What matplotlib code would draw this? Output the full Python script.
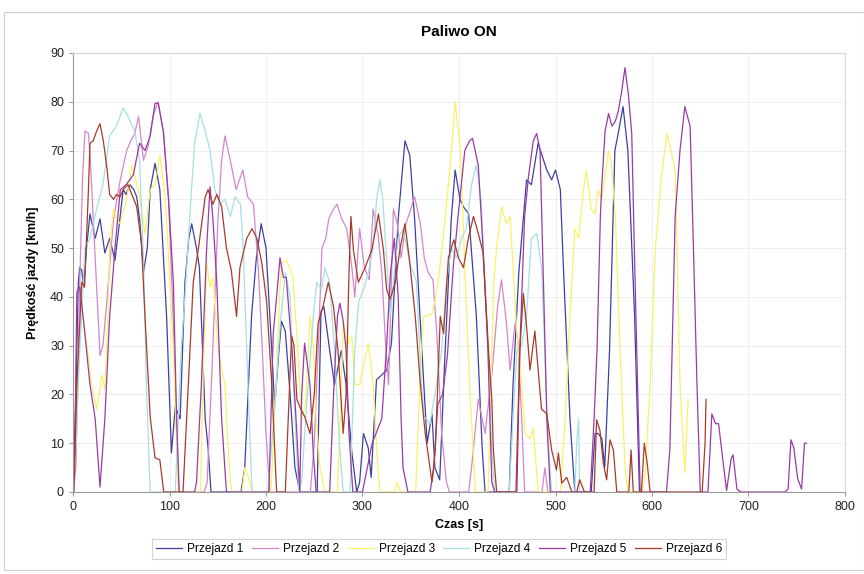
from matplotlib import pyplot as plt
from matplotlib.patches import Rectangle

plt.rcParams['font.family'] = ['Liberation Sans', 'DejaVu Sans']

# (czas [s], predkosc [km/h])
przejazd_1 = [(0, 0), (3, 20), (5.5, 43), (7, 46), (9, 45.5), (11, 42), (14, 50), (17.6, 57), (23, 52), (28, 56),
              (33, 49), (38, 52), (43.5, 47.5), (48, 55), (52, 62), (55, 61), (59, 63), (63, 62), (66, 60.5),
              (69, 56), (73, 45), (77, 50), (80, 62), (85, 67.4), (90, 62), (97, 36), (102, 8), (106, 17.5),
              (111, 15), (116, 43), (120, 52), (123, 55), (128, 50), (131, 46), (137, 15), (140, 9), (143, 0),
              (174, 0), (178, 5), (185, 36), (190, 48), (195, 55), (200, 50), (206, 29), (209, 17.5), (213, 28),
              (216, 35), (220, 33), (225, 20), (230, 5), (235, 0), (253, 0), (257, 37), (260, 38), (266, 29),
              (271, 22), (278, 29), (283, 22), (289, 8), (294, 0), (297, 2), (301, 12), (306, 9), (309, 3),
              (314.5, 23), (320, 24), (325, 25), (330, 30.5), (337, 56), (344, 72), (349, 69), (354, 56),
              (361, 31), (367, 10), (372, 16), (375, 5), (380, 2.5), (385, 26), (392, 56), (396, 66), (401, 60),
              (404.5, 58.5), (410, 57), (418, 36), (424, 9), (427, 0), (452, 0), (456, 22), (462, 45), (470, 64),
              (475, 63), (482, 71.5), (491, 66), (496, 64), (500, 66), (505, 62), (508, 47), (515, 15), (520, 0),
              (537, 0), (541, 12), (544, 12), (548, 11), (551, 5), (556, 29), (561.5, 70), (565, 73.5),
              (570, 79), (575, 70), (582, 36), (587, 0), (590, 0)]

przejazd_2 = [(0, 0), (3, 5), (7, 43), (10, 65), (12.4, 74), (16, 73.5), (18, 68), (21, 56), (25, 40), (28, 28),
              (31, 30), (35, 39), (42, 56), (49, 64), (55.6, 70), (60, 72), (64, 73.5), (68, 77), (73, 68),
              (78, 71), (83, 77), (88, 80), (94, 73.5), (99, 60), (103, 40), (107, 15), (110, 0), (136, 0),
              (139, 2), (144, 25), (150, 55), (154, 68), (157.5, 73), (163, 68), (169, 62), (176, 66),
              (181, 60.5), (187, 59), (192, 46), (196, 30), (200, 12), (204, 0), (246, 0), (250, 10), (254, 29),
              (258, 50), (262, 52), (265, 56), (270, 58), (273.5, 59), (278.5, 56), (283.6, 54), (289, 46),
              (292, 40), (297, 54), (302, 46), (307, 43.5), (311, 58), (316, 53), (320, 45), (324, 30),
              (327, 22), (332, 58), (336, 55), (340, 48), (345, 55), (350, 58), (354, 60.5), (360, 55),
              (364, 48), (368, 45), (373, 43.5), (377, 32.5), (382, 12), (387, 2), (390, 0), (410, 0), (413, 5),
              (420, 19), (427, 12), (434, 24), (440, 38), (444, 43.5), (449, 35), (453, 25), (458, 34.5),
              (461, 31), (465, 15), (468, 0), (486, 0), (489, 5), (492, 0), (500, 0)]

przejazd_3 = [(0, 0), (3, 10), (6, 28), (9, 37), (14, 31), (19.3, 22), (24.5, 17), (27, 20), (30, 24), (33, 21),
              (36, 35), (38, 50), (42, 58), (45, 56), (49, 55), (55.6, 60), (61, 67), (64, 65), (69, 60.5),
              (74.6, 53), (80, 62), (85, 63), (90, 69), (94, 63), (97, 56), (104, 29), (109, 0), (132, 0),
              (135, 25), (138.5, 47), (142, 42), (145, 44), (150.5, 29), (157.5, 22), (160, 12), (163, 2),
              (165, 0), (175, 0), (178, 5), (182, 3), (185.5, 0), (205, 0), (210, 20), (214, 40), (216, 47),
              (221.4, 47.5), (228, 44), (233, 29), (237, 15), (241, 18), (245.6, 36), (249, 30), (252, 15),
              (256, 5), (261, 0), (274, 0), (277, 15), (280, 35), (284, 30), (289, 32), (292, 22), (297, 22),
              (306, 30.5), (311, 22), (315, 8), (318, 0), (333, 0), (336, 2), (339, 0), (355, 0), (359, 20),
              (363, 36), (372, 36.5), (376, 40), (379, 44), (384, 53), (389, 63), (393, 72), (396, 80),
              (401.5, 70), (406, 46), (411, 22), (417, 0), (430, 0), (433, 20), (436, 43), (439, 50),
              (444, 58.5), (449, 55), (453, 56.5), (456, 46), (460, 32.5), (465, 22), (468.5, 12), (473.6, 11),
              (477, 13), (482, 0), (505, 0), (510, 15), (515, 36), (520, 54), (524, 52), (529, 62), (532, 66),
              (537, 58), (541, 57), (544, 62), (548, 60), (555, 70), (558, 67), (562, 56.5), (567, 29), (572, 5),
              (575, 0), (590, 0), (593, 4), (598, 22), (603.5, 50), (610, 65), (615.5, 73.5), (618.5, 71),
              (624, 66), (629, 22), (634, 4), (637.5, 19)]

przejazd_4 = [(0, 0), (3, 10), (7, 29), (12.4, 50), (17.6, 52), (24.5, 58), (31, 63), (38, 73), (45, 75),
              (52, 78.7), (57, 77), (64, 74), (69, 68), (73, 48), (76, 22), (80, 0), (106, 0), (108, 10),
              (112, 29), (116, 40), (121, 56.5), (126, 71.5), (131.5, 77.6), (137, 74), (142, 70), (147, 62),
              (152, 59), (157.5, 60), (163, 56.5), (168, 60.5), (173.5, 59), (176.5, 49.6), (180, 29),
              (185.5, 0), (202, 0), (208, 15), (215, 35), (220, 45), (225, 40), (230, 15), (234, 0), (237, 2),
              (241, 15), (245, 25), (249, 36), (252.6, 43), (257.5, 41.5), (261, 46), (266, 43), (271, 29),
              (276, 10), (280, 0), (287, 0), (292, 29), (296, 39), (301, 41.5), (306, 45), (311, 50),
              (314.6, 60), (318, 64), (321, 60), (326.5, 43), (328.6, 36), (333, 45), (337, 52), (342, 54),
              (349, 47), (356, 43), (361, 22), (364, 15.5), (370, 14), (376.5, 22), (382, 29), (387, 43),
              (392, 50), (397.5, 48), (402.5, 52), (407.5, 54), (413, 63), (418, 67), (423, 60), (428.5, 36),
              (434, 8.6), (437, 0), (452, 0), (456, 15), (460, 29), (465, 30), (470, 36), (475, 52),
              (480.5, 53), (485.5, 46), (489, 29), (492, 12), (496, 0), (520, 0), (522, 10), (524, 15), (525, 0)]

przejazd_5 = [(0, 0), (2, 10), (4, 41), (7, 42), (11, 35), (17.6, 22), (23, 15), (28, 1), (33, 15), (38, 36),
              (43.5, 50), (49, 62), (55, 63), (62.5, 65), (69, 71.5), (74.6, 70), (80, 73), (85, 79.7),
              (88.4, 79.7), (93.6, 74), (99, 60), (104, 43), (107.4, 15), (110, 0), (126, 0), (128, 2),
              (133, 22), (138.5, 50), (142, 62.6), (145, 56), (149, 43), (154, 15), (159, 0), (203, 0),
              (207.5, 32.5), (211, 40), (214.5, 48), (218, 44), (221, 44), (227, 29), (232, 12), (235, 0),
              (237, 20), (240, 30.5), (245.6, 22), (249, 8), (252, 0), (266, 0), (270, 20), (274, 36),
              (276.6, 38.7), (280, 35), (283, 29), (286, 12), (290, 0), (300, 0), (310, 10), (320, 15),
              (325, 30), (329, 45), (333, 52), (337, 40), (340, 15), (342, 5), (347, 0), (370, 0), (374, 5),
              (378, 18), (383, 20), (388, 28), (394, 46), (399, 56.5), (406, 70), (411, 72), (414, 72.5),
              (420, 67), (425, 49.6), (430, 29), (434, 2), (437, 0), (460, 0), (463, 29), (468, 56.5),
              (472, 64.7), (477, 72), (480.5, 73.5), (484, 70), (487.5, 43), (491, 15), (494.6, 0), (536, 0),
              (540, 15), (543, 29), (546.5, 56.5), (548, 63), (551.4, 74), (555, 77.6), (558.5, 75), (562, 76),
              (565, 78), (568.5, 82), (572, 87), (575.5, 81.6), (579, 73.5), (582.5, 43), (587.7, 0), (615, 0),
              (618.5, 8.6), (621, 30), (624, 56.5), (629, 70), (634, 79), (639.5, 75), (643, 49.6),
              (646.6, 22), (650, 0), (658, 0), (662, 16), (666, 14), (669, 14), (674, 5.6), (677.3, 0.3),
              (682, 6.8), (684, 7.6), (688, 0.6), (692, 0), (738, 0), (741, 0.6), (744, 10.7), (747, 9),
              (751, 2.7), (755, 0.6), (758, 10), (760, 10)]

przejazd_6 = [(0, 0), (1, 0), (4, 22), (9, 43), (12, 42), (16, 62), (17.6, 71.5), (21, 72), (24.5, 74),
              (28, 75.5), (31.4, 72), (35, 66.7), (38, 61), (42, 60), (45, 61), (48.7, 60.5), (52, 62), (57, 63),
              (61, 61), (66, 58.5), (71, 51), (74.6, 36), (80, 15.4), (85, 7), (90, 6.6), (94, 0), (114, 0),
              (119.5, 22), (124.6, 43), (130, 50), (137, 60.5), (140, 62), (145, 59), (149, 61), (154, 58.5),
              (159, 50), (164, 45.5), (169.5, 36), (173, 46), (180, 52), (185.5, 54), (190.5, 52), (195.6, 47),
              (200.7, 39), (206, 22), (211, 0), (220, 0), (224, 20), (226.5, 32), (229, 30), (232, 19),
              (236, 17), (240, 15.5), (245.6, 12), (250, 20), (254, 34.6), (259, 38), (264.6, 43), (270, 38),
              (274.6, 29), (280, 12), (283, 20), (286, 45), (288, 56.5), (290.6, 49.6), (295.7, 43),
              (302.7, 46), (309.6, 49.6), (316.5, 57), (321.7, 49.6), (325, 41.5), (328.6, 39.5), (334, 43),
              (339, 50), (344, 55), (349, 47), (354.7, 36), (360, 22), (365, 12), (368.5, 7), (372, 2),
              (375.4, 8.6), (380.6, 36), (384, 32.5), (389, 48), (394.6, 51.7), (399.5, 48), (404.6, 46),
              (409.7, 52), (415, 56.5), (420, 53), (425, 49), (430.6, 29), (434, 19), (435.6, 8.6), (439, 0),
              (459, 0), (463, 29), (466.7, 40.7), (470, 34), (473.6, 25), (478.6, 33), (482, 25), (485.5, 17),
              (491, 16), (496, 8.6), (501, 4.5), (503, 8), (506.5, 1.8), (511.6, 3), (517, 0), (522, 0),
              (525, 2.5), (530, 0), (540, 0), (542.6, 14.8), (546, 12.7), (549.5, 6), (553, 2.5), (556.5, 10.7),
              (560, 8.6), (563.5, 0), (576, 0), (578.3, 8.6), (580.6, 0), (589, 0), (592, 10), (595, 6),
              (598, 0), (652, 0), (655, 10), (656, 19)]

series = [przejazd_1, przejazd_2, przejazd_3, przejazd_4, przejazd_5, przejazd_6]
labels = ['Przejazd 1', 'Przejazd 2', 'Przejazd 3', 'Przejazd 4', 'Przejazd 5', 'Przejazd 6']
colors = ['#3f3fa3', '#d486cc', '#f8f266', '#a6e0e0', '#9a3aa6', '#a83a2a']

fig = plt.figure(figsize=(8.64, 5.74), dpi=100)
ax = fig.add_axes([73 / 864, 1 - 492 / 574, (845 - 73) / 864, (492 - 53) / 574])

for data, lab, col in zip(series, labels, colors):
    t = [p[0] for p in data]
    v = [p[1] for p in data]
    ax.plot(t, v, color=col, lw=0.9, label=lab)

ax.set_xlim(0, 800)
ax.set_ylim(0, 90)
ax.set_xticks(range(0, 801, 100))
ax.set_yticks(range(0, 91, 10))
ax.grid(True, color='#ececec', lw=0.6)
ax.set_axisbelow(True)
for side in ['top', 'right']:
    ax.spines[side].set_color('#d6d6d6')
for side in ['left', 'bottom']:
    ax.spines[side].set_color('#9a9a9a')
ax.tick_params(labelsize=9, color='#9a9a9a', length=3, labelcolor='#222222')

ax.set_title('Paliwo ON', fontsize=11, fontweight='bold', pad=12)
ax.set_xlabel('Czas [s]', fontsize=9, fontweight='bold', labelpad=4)
ax.set_ylabel('Prędkość jazdy [km/h]', fontsize=9, fontweight='bold', labelpad=8)

leg = fig.legend(loc='center', bbox_to_anchor=(439 / 864, 1 - 549 / 574), ncol=6, fontsize=8.6,
                 frameon=True, fancybox=False, handlelength=2.2, handletextpad=0.4, columnspacing=0.7,
                 borderpad=0.35)
leg.get_frame().set_edgecolor('#c8c8c8')
leg.get_frame().set_linewidth(0.8)

# outer chart border
fig.patches.append(Rectangle((4 / 864, 4 / 574), 860 / 864, 558 / 574, transform=fig.transFigure,
                             fill=False, edgecolor='#cfcfcf', lw=0.8))

fig.savefig('out.png', dpi=100)
